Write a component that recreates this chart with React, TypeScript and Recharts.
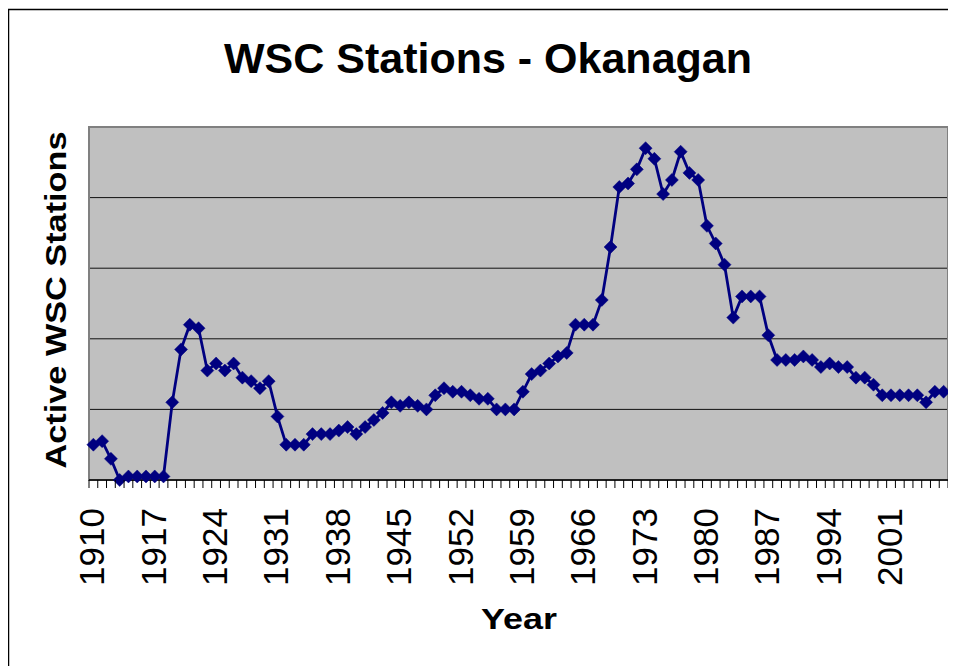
import { LineChart, Line, XAxis, YAxis, CartesianGrid, ReferenceArea } from 'recharts';

// Active WSC hydrometric stations in the Okanagan, one value per year from 1910
const START_YEAR = 1910;
const STATIONS = [
  10, 11, 6, 0, 1, 1, 1, 1, 1, 22, // 1910s
  37, 44, 43, 31, 33, 31, 33, 29, 28, 26, // 1920s
  28, 18, 10, 10, 10, 13, 13, 13, 14, 15, // 1930s
  13, 15, 17, 19, 22, 21, 22, 21, 20, 24, // 1940s
  26, 25, 25, 24, 23, 23, 20, 20, 20, 25, // 1950s
  30, 31, 33, 35, 36, 44, 44, 44, 51, 66, // 1960s
  83, 84, 88, 94, 91, 81, 85, 93, 87, 85, // 1970s
  72, 67, 61, 46, 52, 52, 52, 41, 34, 34, // 1980s
  34, 35, 34, 32, 33, 32, 32, 29, 29, 27, // 1990s
  24, 24, 24, 24, 24, 22, 25, 25, // 2000s
];
const YEARS = STATIONS.map((_, i) => START_YEAR + i);
const LABEL_YEARS = [1910, 1917, 1924, 1931, 1938, 1945, 1952, 1959, 1966, 1973, 1980, 1987, 1994, 2001];
const Y_TICKS = [0, 20, 40, 60, 80, 100];

const data = YEARS.map((year, i) => ({ year, stations: STATIONS[i] }));

const W = 948;
const H = 658;
const MARGIN = { top: 119, right: 8, left: 81, bottom: 0 };
const BAND = (W - MARGIN.left - MARGIN.right) / YEARS.length;
const FONT = '"Liberation Sans", Arial, sans-serif';
const NAVY = '#000080';

function YearTick(props: any) {
  const { x, y, payload } = props;
  const year = payload.value as number;
  const half = BAND / 2;
  const last = year === YEARS[YEARS.length - 1];
  return (
    <g>
      <line x1={x - half} x2={x - half} y1={y} y2={y + 8} stroke="#000" strokeWidth={1} />
      {last && <line x1={x + half} x2={x + half} y1={y} y2={y + 8} stroke="#000" strokeWidth={1} />}
      {LABEL_YEARS.includes(year) && (
        <text
          transform={`translate(${x + 11},${y + 28}) rotate(-90)`}
          textAnchor="end"
          fontSize={35}
          fontFamily={FONT}
          fill="#000"
        >
          {year}
        </text>
      )}
    </g>
  );
}

const renderDiamond = (props: any) => {
  const { cx, cy, index } = props;
  const r = 6.5;
  return (
    <polygon
      key={`dot-${index}`}
      points={`${cx},${cy - r} ${cx + r},${cy} ${cx},${cy + r} ${cx - r},${cy}`}
      fill={NAVY}
      stroke={NAVY}
      strokeWidth={0.5}
    />
  );
};

export default function App() {
  return (
    <div style={{ position: 'relative', width: W, height: H, background: '#fff' }}>
      <LineChart width={W} height={H} data={data} margin={MARGIN}>
        <CartesianGrid horizontal vertical={false} fill="#C0C0C0" stroke="#111" strokeWidth={1} />
        <ReferenceArea
          x1={START_YEAR - 0.5}
          x2={YEARS[YEARS.length - 1] + 0.5}
          y1={0}
          y2={100}
          fill="none"
          fillOpacity={0}
          stroke="#808080"
          strokeWidth={2}
        />
        <XAxis
          dataKey="year"
          type="number"
          domain={[START_YEAR - 0.5, YEARS[YEARS.length - 1] + 0.5]}
          ticks={YEARS}
          interval={0}
          tickLine={false}
          tickSize={0}
          tickMargin={0}
          height={H - MARGIN.top - MARGIN.bottom - 353}
          axisLine={{ stroke: '#000', strokeWidth: 1.5 }}
          tick={<YearTick />}
        />
        <YAxis hide domain={[0, 100]} ticks={Y_TICKS} />
        <Line
          type="linear"
          dataKey="stations"
          stroke={NAVY}
          strokeWidth={2.8}
          dot={renderDiamond}
          activeDot={false}
          isAnimationActive={false}
        />
      </LineChart>
      <svg
        width={W}
        height={H}
        style={{ position: 'absolute', left: 0, top: 0, pointerEvents: 'none' }}
        fontFamily={FONT}
      >
        <line x1={0} x2={W} y1={1.5} y2={1.5} stroke="#000" strokeWidth={1.5} />
        <line x1={0.5} x2={0.5} y1={1} y2={H} stroke="#000" strokeWidth={1.5} />
        <text x={480} y={65} textAnchor="middle" fontSize={43} fontWeight="bold" fill="#000">
          WSC Stations - Okanagan
        </text>
        <text
          transform="translate(58,292) rotate(-90)"
          textAnchor="middle"
          fontSize={30}
          fontWeight="bold"
          fill="#000"
          textLength={337}
          lengthAdjust="spacingAndGlyphs"
        >
          Active WSC Stations
        </text>
        <text
          x={511}
          y={621}
          textAnchor="middle"
          fontSize={30}
          fontWeight="bold"
          fill="#000"
          textLength={76}
          lengthAdjust="spacingAndGlyphs"
        >
          Year
        </text>
      </svg>
    </div>
  );
}
